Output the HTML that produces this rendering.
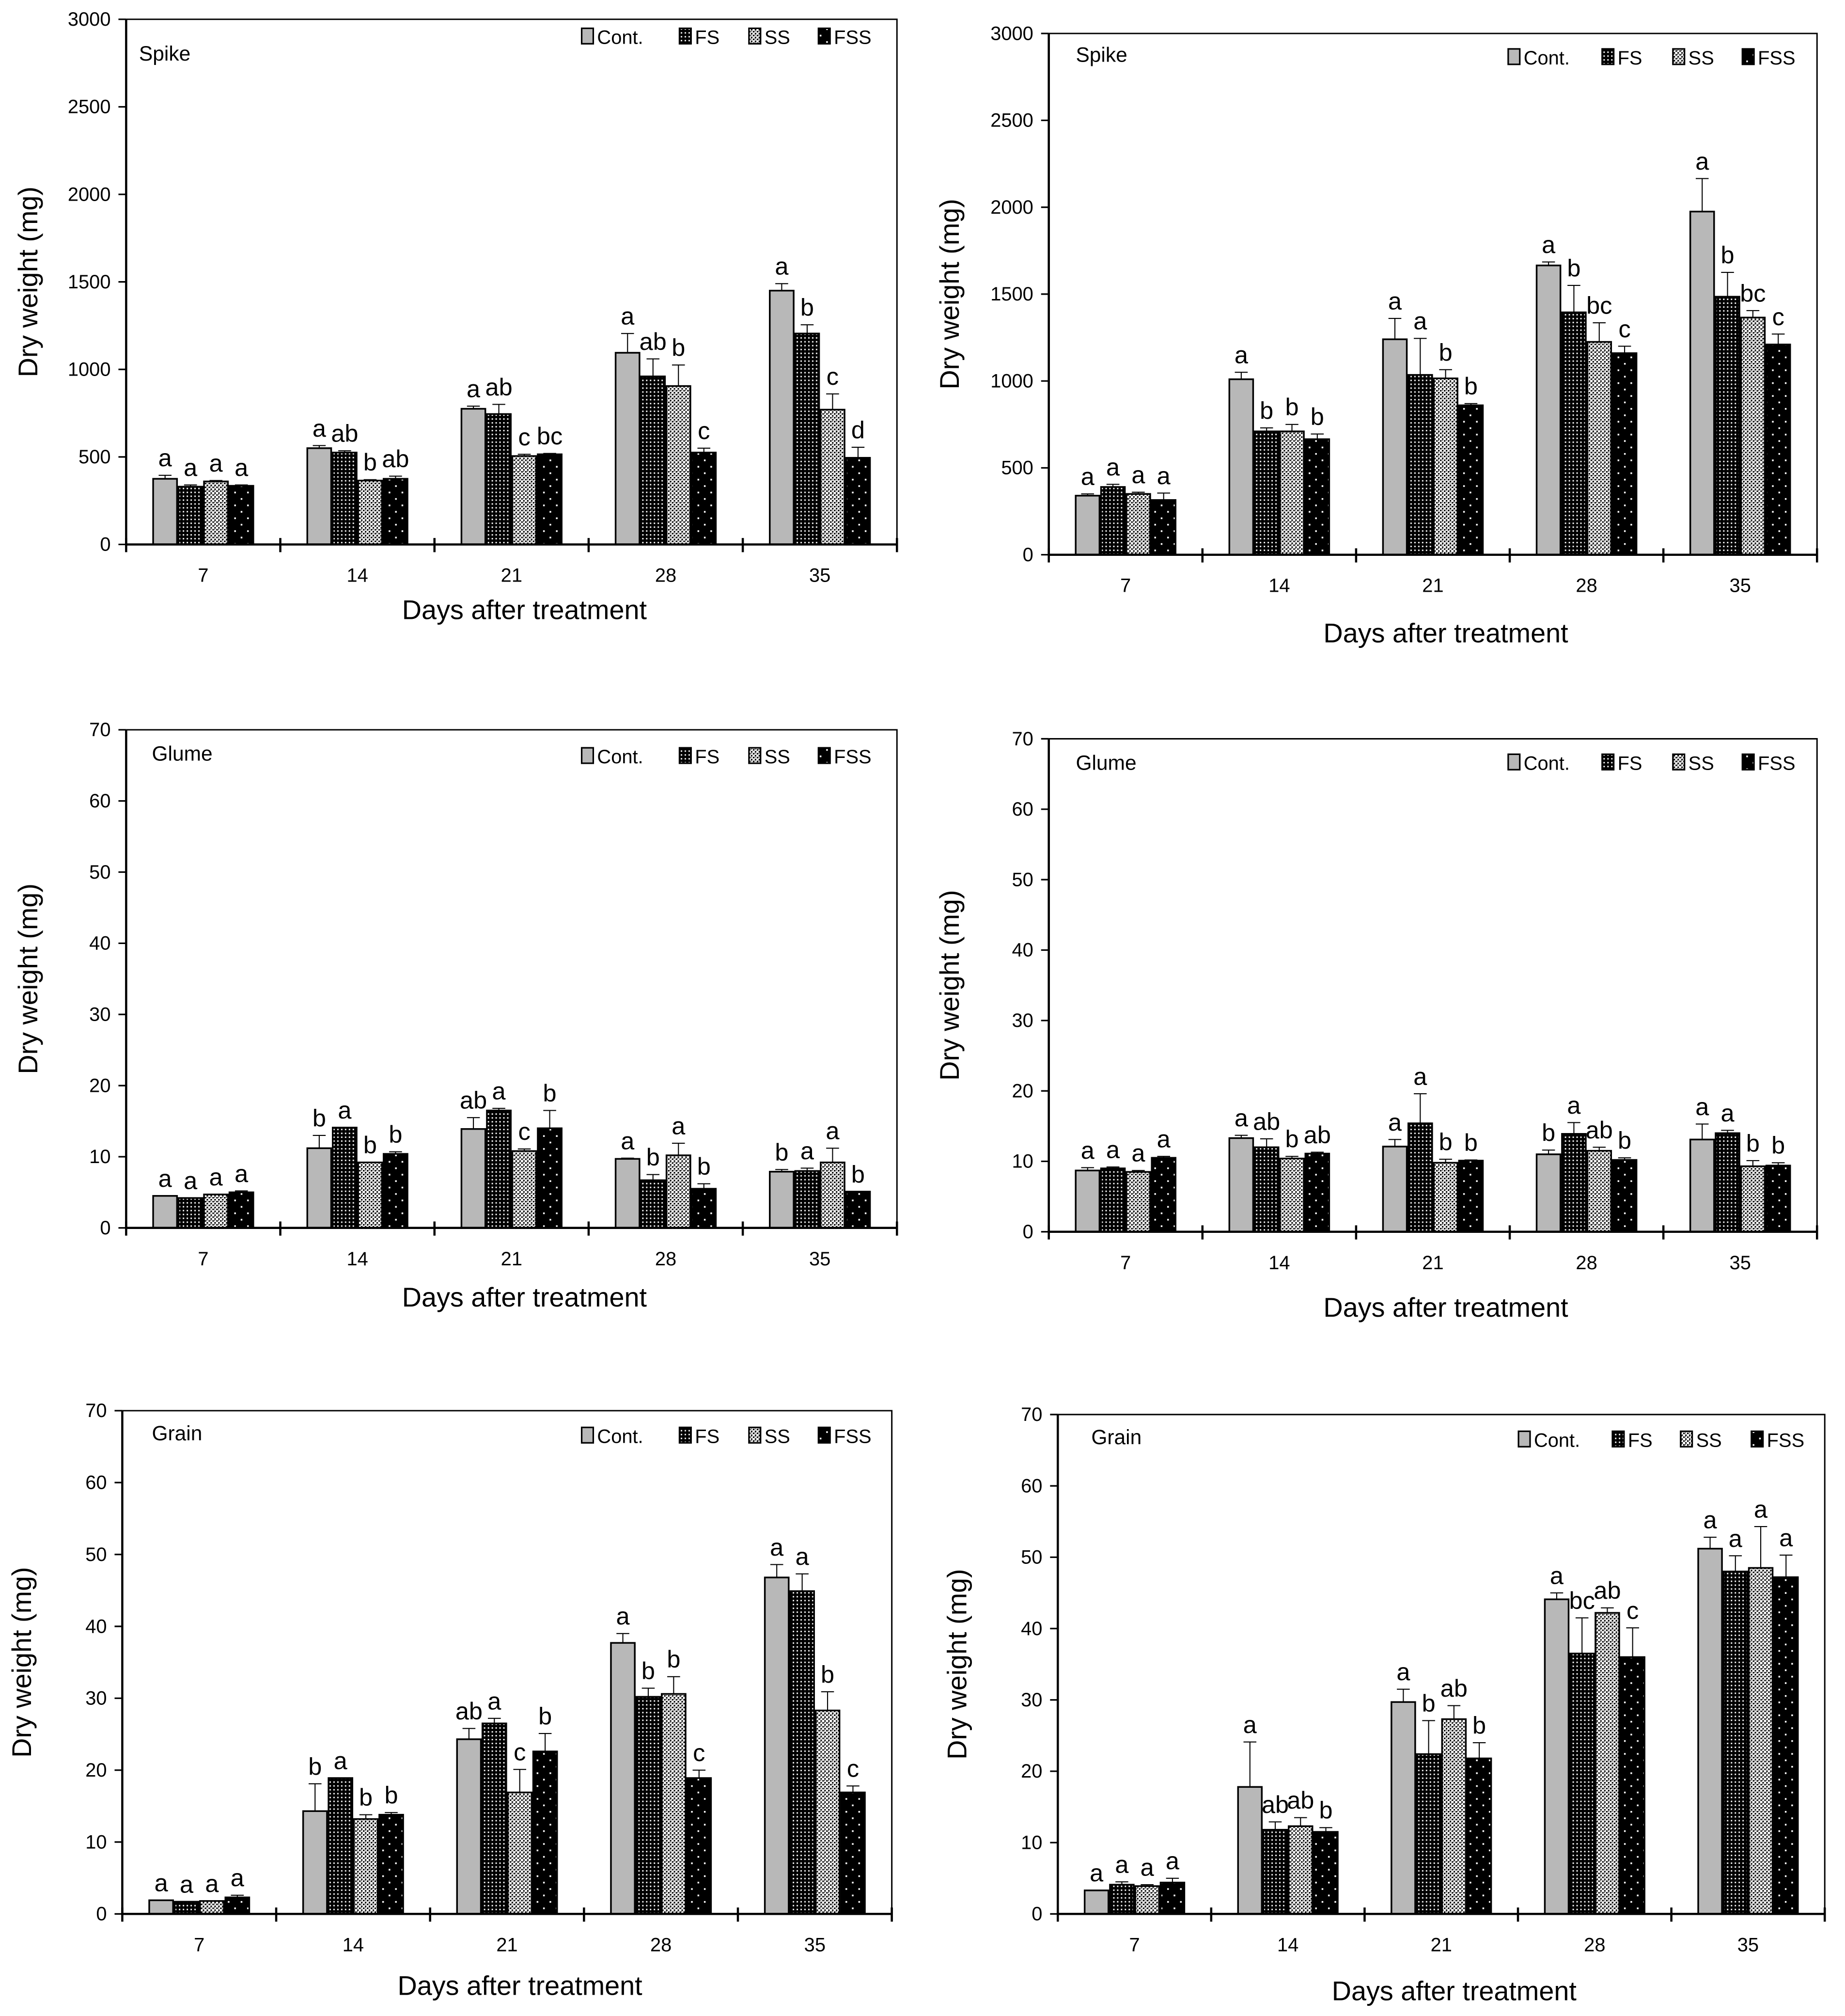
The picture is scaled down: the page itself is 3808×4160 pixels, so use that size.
<!DOCTYPE html>
<html><head><meta charset="utf-8"><style>
html,body{margin:0;padding:0;background:#fff}
svg{display:block}
text{font-family:"Liberation Sans","Noto Sans CJK KR",sans-serif;fill:#000}
</style></head>
<body>
<svg id="fig" xmlns="http://www.w3.org/2000/svg" width="3808" height="4160" viewBox="0 0 1433.7 1566.3">
<defs>
<pattern id="pFS" patternUnits="userSpaceOnUse" width="3" height="3"><rect width="3" height="3" fill="#000"/><rect x="1" y="1" width="1.1" height="1.1" fill="#fff"/></pattern>
<pattern id="pSS" patternUnits="userSpaceOnUse" width="3" height="3"><rect width="3" height="3" fill="#fff"/><rect width="1.2" height="1.2" fill="#000"/><rect x="1.5" y="1.5" width="1.2" height="1.2" fill="#000"/><rect x="1.5" y="0" width="0.6" height="0.6" fill="#000"/></pattern>
<pattern id="pFSS" patternUnits="userSpaceOnUse" width="10" height="10"><rect width="10" height="10" fill="#000"/><rect x="2" y="2" width="1.3" height="1.3" fill="#fff"/><rect x="7" y="7" width="1.3" height="1.3" fill="#fff"/></pattern>
</defs>
</svg>
<script>
const categories = ['7','14','21','28','35'];
const seriesNames = ['Cont.','FS','SS','FSS'];

const spikeA_Cont = [375,550,775,1095,1450];
const spikeA_FS   = [330,525,745,960,1205];
const spikeA_SS   = [360,365,505,905,770];
const spikeA_FSS  = [335,375,515,525,495];
const spikeA_ErrCont = [20,15,15,110,40];
const spikeA_ErrFS   = [10,10,55,100,50];
const spikeA_ErrSS   = [5,5,10,120,90];
const spikeA_ErrFSS  = [5,15,5,25,60];
const spikeA_Letters = [['a','a','a','a'],['a','ab','b','ab'],['a','ab','c','bc'],['a','ab','b','c'],['a','b','c','d']];

const spikeB_Cont = [340,1010,1240,1665,1975];
const spikeB_FS   = [390,710,1035,1395,1485];
const spikeB_SS   = [350,710,1015,1225,1365];
const spikeB_FSS  = [315,665,860,1160,1210];
const spikeB_ErrCont = [10,40,120,20,190];
const spikeB_ErrFS   = [15,20,210,155,140];
const spikeB_ErrSS   = [10,40,50,110,40];
const spikeB_ErrFSS  = [40,30,10,40,60];
const spikeB_Letters = [['a','a','a','a'],['a','b','b','b'],['a','a','b','b'],['a','b','bc','c'],['a','b','bc','c']];

const glumeA_Cont = [4.5,11.2,13.9,9.7,7.9];
const glumeA_FS   = [4.2,14.1,16.5,6.7,8.0];
const glumeA_SS   = [4.7,9.2,10.8,10.2,9.2];
const glumeA_FSS  = [5.0,10.4,14.0,5.5,5.1];
const glumeA_ErrCont = [0,1.8,1.6,0.1,0.3];
const glumeA_ErrFS   = [0,0,0.3,0.8,0.4];
const glumeA_ErrSS   = [0,0,0.3,1.7,2.0];
const glumeA_ErrFSS  = [0.2,0.3,2.5,0.7,0];
const glumeA_Letters = [['a','a','a','a'],['b','a','b','b'],['ab','a','c','b'],['a','b','a','b'],['b','a','a','b']];

const glumeB_Cont = [8.7,13.3,12.1,11.0,13.1];
const glumeB_FS   = [9.0,12.0,15.4,13.9,14.0];
const glumeB_SS   = [8.5,10.4,9.8,11.5,9.3];
const glumeB_FSS  = [10.5,11.1,10.1,10.2,9.4];
const glumeB_ErrCont = [0.4,0.4,1.0,0.6,2.2];
const glumeB_ErrFS   = [0.2,1.2,4.2,1.6,0.4];
const glumeB_ErrSS   = [0.2,0.3,0.5,0.5,0.8];
const glumeB_ErrFSS  = [0.2,0.2,0.1,0.3,0.4];
const glumeB_Letters = [['a','a','a','a'],['a','ab','b','ab'],['a','a','b','b'],['b','a','ab','b'],['a','a','b','b']];

const grainA_Cont = [1.9,14.3,24.3,37.7,46.8];
const grainA_FS   = [1.7,18.9,26.5,30.2,44.9];
const grainA_SS   = [1.8,13.2,16.9,30.6,28.3];
const grainA_FSS  = [2.3,13.8,22.6,18.9,16.9];
const grainA_ErrCont = [0,3.8,1.5,1.3,1.8];
const grainA_ErrFS   = [0,0,0.7,1.2,2.4];
const grainA_ErrSS   = [0,0.6,3.2,2.4,2.6];
const grainA_ErrFSS  = [0.3,0.3,2.5,1.1,0.9];
const grainA_Letters = [['a','a','a','a'],['b','a','b','b'],['ab','a','c','b'],['a','b','b','c'],['a','a','b','c']];

const grainB_Cont = [3.3,17.8,29.7,44.1,51.2];
const grainB_FS   = [4.1,11.8,22.4,36.5,48.0];
const grainB_SS   = [3.9,12.3,27.3,42.2,48.5];
const grainB_FSS  = [4.4,11.5,21.8,36.0,47.2];
const grainB_ErrCont = [0,6.3,1.8,0.9,1.6];
const grainB_ErrFS   = [0.4,1.1,4.7,5.0,2.2];
const grainB_ErrSS   = [0.2,1.2,1.9,0.7,5.8];
const grainB_ErrFSS  = [0.6,0.6,2.2,4.1,3.1];
const grainB_Letters = [['a','a','a','a'],['a','ab','ab','b'],['a','b','ab','b'],['a','bc','ab','c'],['a','a','a','a']];

const spikeTicks = ['0','500','1000','1500','2000','2500','3000'];
const mgTicks = ['0','10','20','30','40','50','60','70'];

const NS = 'http://www.w3.org/2000/svg';
const svg = document.getElementById('fig');
const fills = ['#b8b8b8','url(#pFS)','url(#pSS)','url(#pFSS)'];

function mk(tag, attrs, parent){
  const e = document.createElementNS(NS, tag);
  for (const k in attrs) e.setAttribute(k, attrs[k]);
  parent.appendChild(e);
  return e;
}

function drawPanel(name, cfg, series, errs, letters, ticks){
  const g = mk('g', {}, svg);
  
  
  const H = cfg.bottom - cfg.top;
  const yv = v => cfg.bottom - v / cfg.max * H;
  const gw = (cfg.right - cfg.left) / categories.length;
  const xc = i => cfg.left + gw * (i + 0.5);
  const bw = gw * 0.165;

  const fr = mk('path', {d:`M${cfg.left},${cfg.top}H${cfg.right}V${cfg.bottom}`, fill:'none', stroke:'#000', 'stroke-width':1.1}, g);
  
  

  categories.forEach((c, i) => {
    series.forEach((s, j) => {
      const v = s[i], e = errs[j][i];
      const x = xc(i) - 2 * bw + j * bw;
      const r = mk('rect', {x:x+0.6, y:yv(v), width:bw-1.2, height:cfg.bottom-yv(v), fill:fills[j], stroke:'#000', 'stroke-width':1.3}, g);
      
      
      const cx = x + bw / 2;
      if (e > 0) {
        const eb = mk('path', {d:`M${cx},${yv(v)}V${yv(v+e)}M${cx-5},${yv(v+e)}H${cx+5}`, stroke:'#000', 'stroke-width':0.8, fill:'none'}, g);
        
        
      }
      const t = mk('text', {x:cx, y:yv(v+e)-7, 'font-size':19, 'text-anchor':'middle'}, g);
      t.textContent = letters[i][j];
      
      
    });
    const cl = mk('text', {x:xc(i), y:cfg.bottom+29, 'font-size':15, 'text-anchor':'middle'}, g);
    cl.textContent = c;
    
    
  });

  const ax = mk('path', {d:`M${cfg.left},${cfg.top}V${cfg.bottom}H${cfg.right}`, fill:'none', stroke:'#000', 'stroke-width':1.7}, g);
  
  
  for (let i = 0; i <= categories.length; i++) {
    const x = cfg.left + gw * i;
    const tk = mk('line', {x1:x, x2:x, y1:cfg.bottom-5, y2:cfg.bottom+6, stroke:'#000', 'stroke-width':1.7}, g);
    
    
  }
  ticks.forEach((lab, k) => {
    const y = cfg.bottom - k / (ticks.length - 1) * H;
    const tk = mk('line', {x1:cfg.left-6, x2:cfg.left, y1:y, y2:y, stroke:'#000', 'stroke-width':1.2}, g);
    
    
    const t = mk('text', {x:cfg.left-12, y:y+5, 'font-size':15, 'text-anchor':'end'}, g);
    t.textContent = lab;
    
    
  });

  const xt = mk('text', {x:(cfg.left+cfg.right)/2 + 10, y:cfg.xtitleY, 'font-size':21, 'text-anchor':'middle'}, g);
  xt.textContent = 'Days after treatment';
  
  
  const ymid = (cfg.top + cfg.bottom) / 2;
  const yt = mk('text', {x:cfg.ytitleX, y:ymid, 'font-size':21, 'text-anchor':'middle', transform:`rotate(-90 ${cfg.ytitleX} ${ymid})`}, g);
  yt.textContent = 'Dry weight (mg)';
  
  

  const pl = mk('text', {x:cfg.labelX, y:cfg.labelY, 'font-size':16}, g);
  pl.textContent = cfg.label;
  
  

  seriesNames.forEach((n, j) => {
    const lx = cfg.legX[j];
    const sw = mk('rect', {x:lx, y:cfg.legY-12, width:9, height:12, fill:fills[j], stroke:'#000', 'stroke-width':1.2}, g);
    
    
    const t = mk('text', {x:lx+12, y:cfg.legY, 'font-size':15}, g);
    t.textContent = n;
    
    
  });
}

drawPanel('spike-left', {left:98,right:697,top:15,bottom:423,max:3000,xtitleY:481,ytitleX:29,label:'Spike',labelX:108,labelY:47,legX:[452,528,582,636],legY:34},
  [spikeA_Cont,spikeA_FS,spikeA_SS,spikeA_FSS],[spikeA_ErrCont,spikeA_ErrFS,spikeA_ErrSS,spikeA_ErrFSS],spikeA_Letters,spikeTicks);
drawPanel('spike-right', {left:815,right:1412,top:26,bottom:431,max:3000,xtitleY:499,ytitleX:745,label:'Spike',labelX:836,labelY:48,legX:[1172,1245,1300,1354],legY:50},
  [spikeB_Cont,spikeB_FS,spikeB_SS,spikeB_FSS],[spikeB_ErrCont,spikeB_ErrFS,spikeB_ErrSS,spikeB_ErrFSS],spikeB_Letters,spikeTicks);
drawPanel('glume-left', {left:98,right:697,top:567,bottom:954,max:70,xtitleY:1015,ytitleX:29,label:'Glume',labelX:118,labelY:591,legX:[452,528,582,636],legY:593},
  [glumeA_Cont,glumeA_FS,glumeA_SS,glumeA_FSS],[glumeA_ErrCont,glumeA_ErrFS,glumeA_ErrSS,glumeA_ErrFSS],glumeA_Letters,mgTicks);
drawPanel('glume-right', {left:815,right:1412,top:574,bottom:957,max:70,xtitleY:1023,ytitleX:745,label:'Glume',labelX:836,labelY:598,legX:[1172,1245,1300,1354],legY:598},
  [glumeB_Cont,glumeB_FS,glumeB_SS,glumeB_FSS],[glumeB_ErrCont,glumeB_ErrFS,glumeB_ErrSS,glumeB_ErrFSS],glumeB_Letters,mgTicks);
drawPanel('grain-left', {left:95,right:693,top:1096,bottom:1487,max:70,xtitleY:1550,ytitleX:24,label:'Grain',labelX:118,labelY:1119,legX:[452,528,582,636],legY:1121},
  [grainA_Cont,grainA_FS,grainA_SS,grainA_FSS],[grainA_ErrCont,grainA_ErrFS,grainA_ErrSS,grainA_ErrFSS],grainA_Letters,mgTicks);
drawPanel('grain-right', {left:822,right:1418,top:1099,bottom:1487,max:70,xtitleY:1554,ytitleX:751,label:'Grain',labelX:848,labelY:1122,legX:[1180,1253,1306,1361],legY:1124},
  [grainB_Cont,grainB_FS,grainB_SS,grainB_FSS],[grainB_ErrCont,grainB_ErrFS,grainB_ErrSS,grainB_ErrFSS],grainB_Letters,mgTicks);
</script>
</body></html>
